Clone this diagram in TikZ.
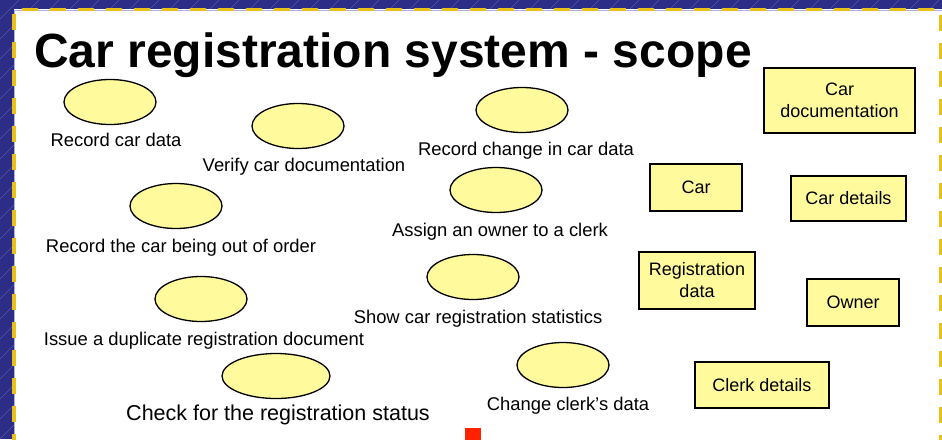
\documentclass[tikz,border=0pt]{standalone}
\usepackage{fontspec}
\setmainfont{Liberation Sans}
\usetikzlibrary{shapes.geometric}
\definecolor{navy}{RGB}{44,45,135}
\definecolor{navyline}{RGB}{85,87,160}
\definecolor{dashyellow}{RGB}{232,192,24}
\definecolor{caseyellow}{RGB}{255,251,157}
\definecolor{panelrim}{RGB}{176,176,225}
\definecolor{markred}{RGB}{255,34,0}

\begin{document}
\begin{tikzpicture}[x=1pt,y=-1pt,
  usecase/.style={ellipse, draw=black, line width=1.3pt, fill=caseyellow,
    minimum width=92pt, minimum height=45pt, inner sep=0pt},
  uclabel/.style={anchor=base, inner sep=0pt, font=\fontsize{18.4}{20}\selectfont},
  entity/.style={rectangle, draw=black, line width=1.3pt, fill=caseyellow,
    inner sep=0pt, align=center, font=\fontsize{18}{22}\selectfont},
  band/.style={navyline, line width=0.5pt},
  rim/.style={dashyellow, line width=3.2pt, dash pattern=on 16pt off 12pt}
]
\useasboundingbox (0,0) rectangle (942,439);

% slide background with faint hatching in the dark frame
\fill[navy] (0,0) rectangle (942,439);
\begin{scope}
  \clip (0,0) rectangle (942,9) (0,0) rectangle (14,439);
  \foreach \i in {-460,-440,...,960} {
    \draw[band] (\i,439) -- (\i+439,0);
  }
\end{scope}

% white content panel and its dashed yellow border
\fill[white] (14,9) rectangle (950,450);
\draw[panelrim, line width=0.8pt] (14.5,450) -- (14.5,10.5) -- (942,10.5);
\draw[rim] (14,450) -- (14,9.5) -- (940.5,9.5) -- (940.5,450);

% title
\node[anchor=base west, inner sep=0pt, font=\fontsize{48}{52}\bfseries]
  (title) at (34,67) {Car registration system - scope};

% use cases
\node[usecase] (uc1) at (110,102) {};
\node[uclabel] (l1) at (116,146) {Record car data};

\node[usecase] (uc2) at (298,126) {};
\node[uclabel] (l2) at (304,171) {Verify car documentation};

\node[usecase] (uc3) at (522,110) {};
\node[uclabel] (l3) at (526,155) {Record change in car data};

\node[usecase] (uc4) at (176,206) {};
\node[uclabel] (l4) at (181,252) {Record the car being out of order};

\node[usecase] (uc5) at (496,190) {};
\node[uclabel] (l5) at (500,236) {Assign an owner to a clerk};

\node[usecase] (uc6) at (201,299) {};
\node[uclabel] (l6) at (204,345) {Issue a duplicate registration document};

\node[usecase] (uc7) at (473,277) {};
\node[uclabel] (l7) at (478,323) {Show car registration statistics};

\node[usecase, minimum width=108pt] (uc8) at (276,376) {};
\node[uclabel, font=\fontsize{21.5}{24}\selectfont] (l8) at (278,420)
  {Check for the registration status};

\node[usecase] (uc9) at (563,365) {};
\node[uclabel] (l9) at (568,410) {Change clerk’s data};

% entities
\node[entity, minimum width=151pt, minimum height=65pt] (cardoc)
  at (839.5,100.5) {Car\\documentation};
\node[entity, minimum width=92pt, minimum height=47pt] (car)
  at (696,187.5) {Car};
\node[entity, minimum width=115pt, minimum height=45pt] (cardet)
  at (848.5,198.5) {Car details};
\node[entity, minimum width=116pt, minimum height=57pt] (regdata)
  at (697,280.5) {Registration\\data};
\node[entity, minimum width=92pt, minimum height=47pt] (owner)
  at (853,302.5) {Owner};
\node[entity, minimum width=134pt, minimum height=46pt] (clerk)
  at (762,385) {Clerk details};

% small red marker at the bottom edge
\fill[markred] (465,428) rectangle (481,440);
\end{tikzpicture}
\end{document}
